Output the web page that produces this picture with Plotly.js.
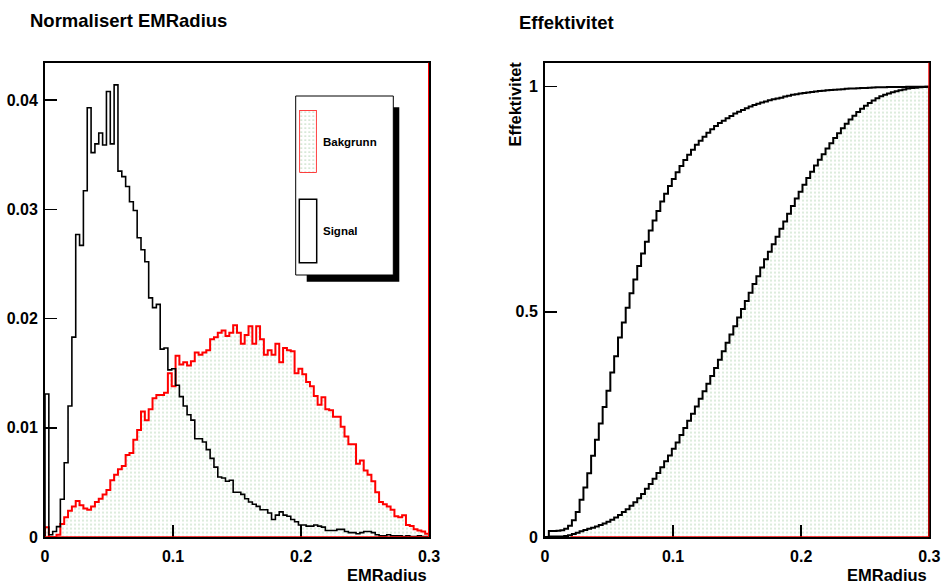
<!DOCTYPE html>
<html><head><meta charset="utf-8">
<script src="https://cdn.plot.ly/plotly-3.0.1.min.js"></script>
<style>html,body{margin:0;padding:0;background:#fff;} #plot{width:942px;height:584px;}</style>
</head><body><div id="plot"></div>
<script>
// 100 bins from 0 to 0.3
const binWidth = 0.003;
const signal = [
0.0131, 0.0002, 0.0005, 0.00095, 0.00345, 0.0068, 0.0120, 0.0183, 0.0277, 0.0267,
0.0317, 0.0393, 0.0352, 0.0360, 0.0370, 0.0359, 0.0408, 0.0360, 0.0414, 0.0335,
0.0330, 0.0321, 0.0307, 0.0299, 0.0274, 0.0263, 0.0252, 0.0219, 0.0210, 0.0213,
0.0172, 0.0173, 0.0153, 0.0154, 0.0139, 0.01285, 0.0120, 0.0112, 0.0107, 0.0090,
0.0090, 0.0087, 0.0080, 0.0072, 0.0064, 0.0055, 0.0054, 0.0051, 0.0052, 0.0041,
0.0041, 0.0039, 0.0035, 0.0032, 0.0030, 0.0028, 0.0025, 0.0025, 0.0022, 0.0016,
0.0020, 0.0023, 0.0020, 0.0019, 0.0016, 0.0014, 0.0011, 0.0011, 0.0010, 0.0010,
0.0011, 0.0010, 0.0009, 0.0006, 0.0006, 0.0006, 0.0007, 0.0007, 0.0005, 0.0004,
0.0004, 0.0003, 0.0004, 0.0005, 0.0005, 0.0004, 0.0002, 0.0001, 0.0001, 0.0002,
0.0001, 0.0001, 0.0001, 0.00005, 0.0001, 0.00005, 0.00005, 0.0001, 0.00005, 0.00005
];
const bakgrunn = [
0.0009, 0, 0, 0.0002, 0.0012, 0.0018, 0.0024, 0.0028, 0.0033, 0.0029,
0.0026, 0.0025, 0.0028, 0.0032, 0.0035, 0.0039, 0.0043, 0.0052, 0.0057, 0.0062,
0.0065, 0.0075, 0.0077, 0.0089, 0.0098, 0.0115, 0.0107, 0.0117, 0.0127, 0.0130,
0.0130, 0.0132, 0.0150, 0.0138, 0.0166, 0.0158, 0.0160, 0.0157, 0.0161, 0.0169,
0.0167, 0.0169, 0.0171, 0.0181, 0.0183, 0.0187, 0.0189, 0.0184, 0.0187, 0.0194,
0.0187, 0.0177, 0.0185, 0.0193, 0.0177, 0.0193, 0.0181, 0.0167, 0.0171, 0.0167,
0.0177, 0.0160, 0.0173, 0.0171, 0.0170, 0.0150, 0.0154, 0.0149, 0.0142, 0.0138,
0.0129, 0.0121, 0.0128, 0.0117, 0.0116, 0.0110, 0.0110, 0.0101, 0.0092, 0.0085,
0.0085, 0.0067, 0.0070, 0.0061, 0.0057, 0.0051, 0.0041, 0.0032, 0.0030, 0.0028,
0.0025, 0.0019, 0.0018, 0.0020, 0.0011, 0.0010, 0.0007, 0.0006, 0.0005, 0.0003
];
const xTickVals = [0, 0.1, 0.2, 0.3];
const xTickText = ['0', '0.1', '0.2', '0.3'];
const yTickValsLeft = [0, 0.01, 0.02, 0.03, 0.04];
const yTickTextLeft = ['0', '0.01', '0.02', '0.03', '0.04'];
const yTickValsRight = [0, 0.5, 1];
const yTickTextRight = ['0', '0.5', '1'];
const legendLabels = ['Bakgrunn', 'Signal'];
const titleLeft = 'Normalisert EMRadius';
const titleRight = 'Effektivitet';
const xTitle = 'EMRadius';
const yTitleRight = 'Effektivitet';

// build step outlines from bin contents
function stepXY(vals) {
  const n = vals.length, x = [0], y = [0];
  for (let i = 0; i < n; i++) { x.push(i * binWidth); y.push(vals[i]); }
  x.push(n * binWidth); y.push(vals[n - 1]);
  x.push(n * binWidth); y.push(0);
  return {x, y};
}
// efficiency: fraction of entries below each bin's lower edge
function cumulative(vals) {
  const tot = vals.reduce((a, b) => a + b, 0);
  const out = []; let s = 0;
  for (let i = 0; i < vals.length; i++) { out.push(s / tot); s += vals[i]; }
  return out;
}
const W = 942, H = 584;
const px = v => v / W, py = v => 1 - v / H;
const FONT = '"Liberation Sans", Arial, Helvetica, sans-serif';
const pattern = {shape: '.', fgcolor: 'rgb(70,150,70)', bgcolor: 'white', size: 4, solidity: 0.06, fgopacity: 0.85};

const sSig = stepXY(signal), sBg = stepXY(bakgrunn);
const eSig = stepXY(cumulative(signal)), eBg = stepXY(cumulative(bakgrunn));

const traces = [
  {x: sBg.x, y: sBg.y, xaxis: 'x', yaxis: 'y', type: 'scatter', mode: 'lines',
   line: {shape: 'hv', color: 'rgb(255,0,0)', width: 2}, fill: 'tozeroy', fillcolor: 'white', fillpattern: pattern, hoverinfo: 'skip'},
  {x: sSig.x, y: sSig.y, xaxis: 'x', yaxis: 'y', type: 'scatter', mode: 'lines',
   line: {shape: 'hv', color: 'black', width: 1.6}, hoverinfo: 'skip'},
  {x: eBg.x, y: eBg.y, xaxis: 'x2', yaxis: 'y2', type: 'scatter', mode: 'lines',
   line: {shape: 'hv', color: 'black', width: 2}, fill: 'tozeroy', fillcolor: 'white', fillpattern: pattern, hoverinfo: 'skip'},
  {x: eSig.x, y: eSig.y, xaxis: 'x2', yaxis: 'y2', type: 'scatter', mode: 'lines',
   line: {shape: 'hv', color: 'black', width: 2}, hoverinfo: 'skip'},
  // legend swatch for Bakgrunn
  {x: [0, 1, 1, 0, 0], y: [0, 0, 1, 1, 0], xaxis: 'x3', yaxis: 'y3', type: 'scatter', mode: 'lines',
   line: {color: 'rgb(255,0,0)', width: 1.5}, fill: 'toself', fillcolor: 'white', fillpattern: pattern, hoverinfo: 'skip'}
];

const tickfont = {family: FONT, size: 16, color: 'black', weight: 'bold'};
function xa(domain, anchor) {
  return {domain, anchor, range: [0, 0.3], tickvals: xTickVals, ticktext: xTickText, ticks: 'inside', ticklen: 12,
    tickwidth: 1.5, tickcolor: 'black', showline: true, mirror: true, linewidth: 2, linecolor: 'black',
    showgrid: false, zeroline: false, tickfont, ticklabelstandoff: 4, fixedrange: true};
}
function ya(domain, anchor, range, tv, tt) {
  return {domain, anchor, range, tickvals: tv, ticktext: tt, ticks: 'inside', ticklen: 12,
    tickwidth: 1.5, tickcolor: 'black', showline: true, mirror: true, linewidth: 2, linecolor: 'black',
    showgrid: false, zeroline: false, tickfont, ticklabelstandoff: 2, fixedrange: true};
}
const yDom = [py(537), py(62.5)];
const layout = {
  width: W, height: H, margin: {l: 0, r: 0, t: 0, b: 0},
  paper_bgcolor: 'white', plot_bgcolor: 'rgba(0,0,0,0)', showlegend: false,
  xaxis: xa([px(45), px(429)], 'y'),
  yaxis: ya(yDom, 'x', [0, 0.04345], yTickValsLeft, yTickTextLeft),
  xaxis2: xa([px(545), px(929.3)], 'y2'),
  yaxis2: ya(yDom, 'x2', [0, 1.0537], yTickValsRight, yTickTextRight),
  xaxis3: {domain: [px(299.3), px(316.7)], anchor: 'y3', range: [0, 1], visible: false, fixedrange: true},
  yaxis3: {domain: [py(172.7), py(110)], anchor: 'x3', range: [0, 1], visible: false, fixedrange: true},
  shapes: [
    // legend shadow and box
    {type: 'rect', xref: 'paper', yref: 'paper', x0: px(306.7), x1: px(399.3), y0: py(281.7), y1: py(107.3),
     fillcolor: 'black', line: {width: 0}, layer: 'below'},
    {type: 'rect', xref: 'paper', yref: 'paper', x0: px(295.7), x1: px(393.3), y0: py(275), y1: py(96),
     fillcolor: 'white', line: {color: 'black', width: 1}, layer: 'below'},
    {type: 'rect', xref: 'paper', yref: 'paper', x0: px(299.3), x1: px(316.7), y0: py(262.7), y1: py(199.3),
     fillcolor: 'white', line: {color: 'black', width: 1.5}, layer: 'above'},
    // red histogram edges
    {type: 'line', xref: 'x', yref: 'y', x0: 0.3, x1: 0.3, y0: 0, y1: 0.04345, line: {color: 'rgb(255,0,0)', width: 2}},
    {type: 'line', xref: 'x', yref: 'y', x0: 0, x1: 0.3, y0: 0, y1: 0, line: {color: 'rgb(255,0,0)', width: 1.5}},
    {type: 'line', xref: 'x2', yref: 'y2', x0: 0.3, x1: 0.3, y0: 0, y1: 1.0537, line: {color: 'rgb(255,0,0)', width: 2}},
    {type: 'line', xref: 'x2', yref: 'y2', x0: 0.02, x1: 0.3, y0: 0, y1: 0, line: {color: 'rgb(255,0,0)', width: 1.5}}
  ],
  annotations: [
    {text: titleLeft, xref: 'paper', yref: 'paper', x: px(28), y: py(21), xanchor: 'left', yanchor: 'middle',
     showarrow: false, font: {family: FONT, size: 18.5, color: 'black', weight: 'bold'}},
    {text: titleRight, xref: 'paper', yref: 'paper', x: px(516.5), y: py(23), xanchor: 'left', yanchor: 'middle',
     showarrow: false, font: {family: FONT, size: 18.5, color: 'black', weight: 'bold'}},
    {text: xTitle, xref: 'x', yref: 'paper', x: 0.3, y: py(575), xanchor: 'right', yanchor: 'middle',
     showarrow: false, font: {family: FONT, size: 16.5, color: 'black', weight: 'bold'}},
    {text: xTitle, xref: 'x2', yref: 'paper', x: 0.3, y: py(575), xanchor: 'right', yanchor: 'middle',
     showarrow: false, font: {family: FONT, size: 16.5, color: 'black', weight: 'bold'}},
    {text: yTitleRight, xref: 'paper', yref: 'paper', x: px(514), y: py(104.5), xanchor: 'center', yanchor: 'middle',
     textangle: -90, showarrow: false, font: {family: FONT, size: 16.5, color: 'black', weight: 'bold'}},
    {text: legendLabels[0], xref: 'paper', yref: 'paper', x: px(320.5), y: py(141.7), xanchor: 'left', yanchor: 'middle',
     showarrow: false, font: {family: FONT, size: 11.5, color: 'black', weight: 'bold'}},
    {text: legendLabels[1], xref: 'paper', yref: 'paper', x: px(320.5), y: py(230.7), xanchor: 'left', yanchor: 'middle',
     showarrow: false, font: {family: FONT, size: 11.5, color: 'black', weight: 'bold'}}
  ]
};
Plotly.newPlot('plot', traces, layout, {staticPlot: true, displayModeBar: false});
</script>
</body></html>
